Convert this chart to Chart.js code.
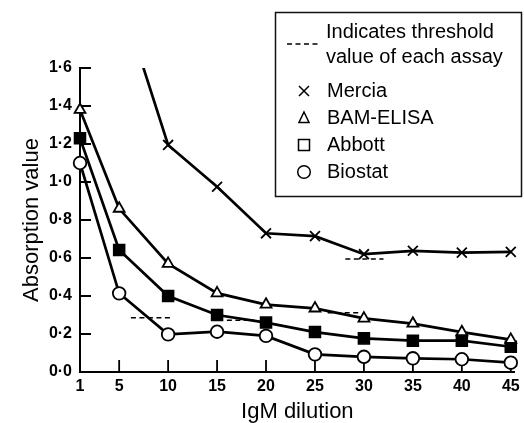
<!DOCTYPE html>
<html><head><meta charset="utf-8">
<script src="https://cdn.jsdelivr.net/npm/chart.js@4/dist/chart.umd.min.js"></script>
<style>html,body{margin:0;padding:0;background:#fff;}canvas{display:block;}</style>
</head><body>
<canvas id="c" width="524" height="423"></canvas>
<script>
const dilutions = [1, 5, 10, 15, 20, 25, 30, 35, 40, 45];
const merciaDilutions = [5, 10, 15, 20, 25, 30, 35, 40, 45];
const mercia   = [2.0, 1.195, 0.975, 0.73, 0.715, 0.62, 0.638, 0.628, 0.632];
const bamElisa = [1.38, 0.86, 0.57, 0.415, 0.355, 0.335, 0.282, 0.255, 0.21, 0.17];
const abbott   = [1.23, 0.642, 0.40, 0.30, 0.26, 0.21, 0.177, 0.165, 0.165, 0.133];
const biostat  = [1.10, 0.414, 0.198, 0.212, 0.19, 0.093, 0.08, 0.072, 0.067, 0.049];
const thresholdFrom  = [6.2, 16, 26.3, 28.1];
const thresholdTo    = [10.2, 18.8, 29.6, 32];
const thresholdLevel = [0.285, 0.272, 0.312, 0.595];
const xTicks = [1, 5, 10, 15, 20, 25, 30, 35, 40, 45];
const yTicks = [0, 0.2, 0.4, 0.6, 0.8, 1.0, 1.2, 1.4, 1.6];
const yTickLabels = ['0·0', '0·2', '0·4', '0·6', '0·8', '1·0', '1·2', '1·4', '1·6'];
const seriesNames = ['Mercia', 'BAM-ELISA', 'Abbott', 'Biostat'];
const thresholdNote = ['Indicates threshold', 'value of each assay'];
const xTitle = 'IgM dilution';
const yTitle = 'Absorption value';

const FONT = '"Liberation Sans", Arial, Helvetica, sans-serif';
const pts = (xs, ys) => xs.map((x, i) => ({x: x, y: ys[i]}));

const datasets = [
  {label: seriesNames[0], data: pts(merciaDilutions, mercia), pointStyle: 'crossRot', pointRadius: 7,
   borderColor: '#000', backgroundColor: '#000', pointBorderWidth: 1.8, borderWidth: 2.7,
   clip: {left: false, top: 0, right: false, bottom: false}},
  {label: seriesNames[1], data: pts(dilutions, bamElisa), pointStyle: 'triangle', pointRadius: 6.3,
   borderColor: '#000', pointBackgroundColor: '#fff', pointBorderWidth: 1.8, borderWidth: 2.7, clip: false},
  {label: seriesNames[2], data: pts(dilutions, abbott), pointStyle: 'rect', pointRadius: 7.8,
   borderColor: '#000', pointBackgroundColor: '#000', pointBorderWidth: 1.5, borderWidth: 2.7, clip: false},
  {label: seriesNames[3], data: pts(dilutions, biostat), pointStyle: 'circle', pointRadius: 6.3,
   borderColor: '#000', pointBackgroundColor: '#fff', pointBorderWidth: 1.8, borderWidth: 2.7, clip: false}
];
thresholdLevel.forEach((lv, i) => {
  datasets.push({label: 'threshold', data: [{x: thresholdFrom[i], y: lv}, {x: thresholdTo[i], y: lv}],
    borderColor: '#000', borderWidth: 1.5, borderDash: [5, 3.5], pointRadius: 0, clip: false});
});

const decor = {
  id: 'decor',
  beforeDatasetsDraw(chart) {
    const {ctx, scales: {x, y}} = chart;
    ctx.save();
    ctx.strokeStyle = '#000';
    ctx.lineWidth = 1.8;
    ctx.beginPath();
    yTicks.forEach(v => {
      if (v === 0) return;
      const py = y.getPixelForValue(v);
      ctx.moveTo(x.left, py); ctx.lineTo(x.left + 11, py);
    });
    xTicks.forEach(v => {
      if (v === xTicks[0]) return;
      const px = x.getPixelForValue(v);
      ctx.moveTo(px, y.bottom); ctx.lineTo(px, y.bottom - 12);
    });
    ctx.stroke();
    ctx.restore();
  },
  afterDraw(chart) {
    const ctx = chart.ctx;
    ctx.save();
    ctx.strokeStyle = '#111';
    ctx.lineWidth = 1.5;
    ctx.strokeRect(275.5, 12.5, 246, 184);
    ctx.strokeStyle = '#000';
    ctx.setLineDash([5, 3.5]);
    ctx.beginPath(); ctx.moveTo(287, 44); ctx.lineTo(321, 44); ctx.stroke();
    ctx.setLineDash([]);
    ctx.fillStyle = '#000';
    ctx.font = '20px ' + FONT;
    ctx.textBaseline = 'middle';
    ctx.textAlign = 'left';
    ctx.fillText(thresholdNote[0], 326, 32);
    ctx.fillText(thresholdNote[1], 326, 57);
    const rows = [91, 118, 145, 172];
    seriesNames.forEach((n, i) => ctx.fillText(n, 327, rows[i]));
    ctx.lineWidth = 1.5;
    let cx = 304, cy = rows[0];
    ctx.beginPath(); ctx.moveTo(cx - 5, cy - 5); ctx.lineTo(cx + 5, cy + 5);
    ctx.moveTo(cx + 5, cy - 5); ctx.lineTo(cx - 5, cy + 5); ctx.stroke();
    cy = rows[1];
    ctx.beginPath(); ctx.moveTo(cx, cy - 6); ctx.lineTo(cx + 5, cy + 4.5); ctx.lineTo(cx - 5, cy + 4.5); ctx.closePath(); ctx.stroke();
    cy = rows[2];
    ctx.strokeRect(cx - 5.5, cy - 5.5, 11, 11);
    cy = rows[3];
    ctx.beginPath(); ctx.arc(cx, cy, 6.3, 0, Math.PI * 2); ctx.stroke();
    ctx.restore();
  }
};

new Chart(document.getElementById('c'), {
  type: 'line',
  data: {datasets: datasets},
  plugins: [decor],
  options: {
    responsive: false, animation: false, devicePixelRatio: 1,
    layout: {padding: {top: 68, right: 3, left: 0, bottom: 0}},
    elements: {line: {tension: 0}},
    plugins: {legend: {display: false}, tooltip: {enabled: false}},
    scales: {
      x: {
        type: 'linear', min: 1, max: 45.4, bounds: 'data',
        afterBuildTicks: s => { s.ticks = xTicks.map(v => ({value: v})); },
        afterFit: s => { s.height = 51; s.paddingLeft = 0; s.paddingRight = 0; },
        ticks: {autoSkip: false, maxRotation: 0, padding: 5, color: '#000',
          font: {family: FONT, size: 16, weight: 'bold'}, callback: (v, i) => String(xTicks[i])},
        grid: {display: true, drawOnChartArea: false, drawTicks: false},
        border: {display: true, color: '#000', width: 2},
        title: {display: true, text: xTitle, color: '#000', font: {family: FONT, size: 22, lineHeight: 1},
          padding: {top: 0, bottom: 0}}
      },
      y: {
        type: 'linear', min: 0, max: 1.6, bounds: 'data',
        afterBuildTicks: s => { s.ticks = yTicks.map(v => ({value: v})); },
        afterFit: s => { s.width = 80; s.paddingTop = 0; s.paddingBottom = 0; },
        ticks: {autoSkip: false, padding: 8, color: '#000',
          font: {family: FONT, size: 16, weight: 'bold'}, callback: (v, i) => yTickLabels[i]},
        grid: {display: true, drawOnChartArea: false, drawTicks: false},
        border: {display: true, color: '#000', width: 2},
        title: {display: true, text: yTitle, color: '#000', font: {family: FONT, size: 22, lineHeight: 1.2},
          padding: {top: 19, bottom: 0}}
      }
    }
  }
});
</script>
</body></html>
